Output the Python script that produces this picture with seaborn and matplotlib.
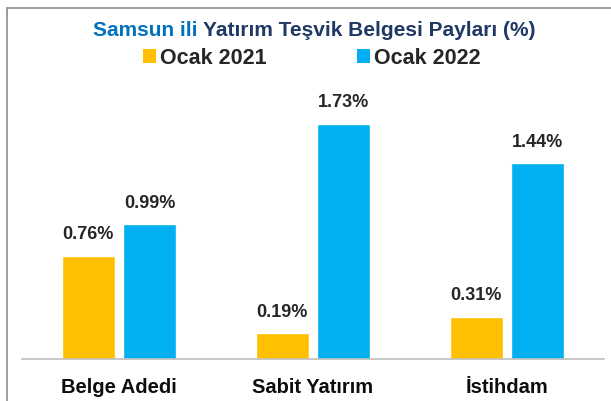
import numpy as np
import pandas as pd
import seaborn as sns
import matplotlib.pyplot as plt
from matplotlib.patches import Patch
from matplotlib.lines import Line2D

categories = ["Belge Adedi", "Sabit Yatırım", "İstihdam"]
series = ["Ocak 2021", "Ocak 2022"]
vals_2021 = [0.76, 0.19, 0.31]
vals_2022 = [0.99, 1.73, 1.44]
colors = ["#FFC000", "#00B0F0"]

df = pd.DataFrame({
    "kategori": categories * 2,
    "donem": [series[0]] * 3 + [series[1]] * 3,
    "pay": vals_2021 + vals_2022,
})

sns.set_theme(style="white")
fonts = ["Liberation Sans Narrow", "Liberation Sans", "DejaVu Sans"]
plt.rcParams["font.family"] = fonts

W, H = 611, 401
fig = plt.figure(figsize=(W / 100, H / 100), dpi=100)
fig.patch.set_facecolor("white")

ax = fig.add_axes([22 / W, (H - 359) / H, 582 / W, 259 / H])
sns.barplot(data=df, x="kategori", y="pay", hue="donem", palette=colors,
            width=0.634, gap=0.14, ax=ax, legend=False, saturation=1)

for cont in ax.containers:
    ax.bar_label(cont, fmt="%.2f%%", padding=9, fontsize=13, fontweight="bold",
                 color="#262626")

ax.set_ylim(0, 1.904)
ax.set_xlim(-0.499, 2.501)
ax.set_yticks([])
ax.set_xlabel("")
ax.set_ylabel("")
for s in ["top", "right", "left"]:
    ax.spines[s].set_visible(False)
ax.spines["bottom"].set_color("#BFBFBF")
ax.spines["bottom"].set_linewidth(1.2)
ax.tick_params(axis="x", length=0, pad=14)
for lab in ax.get_xticklabels():
    lab.set_fontsize(14.5)
    lab.set_fontweight("bold")
    lab.set_color("#0d0d0d")
ax.set_facecolor("none")

# title in two colours
ty = 1 - 31 / H
fig.text(198 / W, ty, "Samsun ili", ha="right", va="center", fontsize=15,
         fontweight="bold", color="#0070C0")
fig.text(203 / W, ty, "Yatırım Teşvik Belgesi Payları (%)", ha="left", va="center",
         fontsize=15, fontweight="bold", color="#1F3864")

handles = [Patch(facecolor=c, edgecolor="none") for c in colors]
fig.legend(handles, series, loc="center", bbox_to_anchor=(312 / W, 1 - 58 / H),
           ncol=2, frameon=False, handlelength=0.6, handleheight=0.6,
           handletextpad=0.2, columnspacing=4.2,
           prop={"family": fonts, "weight": "bold", "size": 15.5})

# frame of the screenshot
fig.add_artist(Line2D([7 / W, 1], [1 - 8 / H, 1 - 8 / H], color="#8C8C8C", lw=1.2))
fig.add_artist(Line2D([7 / W, 7 / W], [0, 1 - 8 / H], color="#8C8C8C", lw=1.2))

fig.savefig("out.png", dpi=100)
